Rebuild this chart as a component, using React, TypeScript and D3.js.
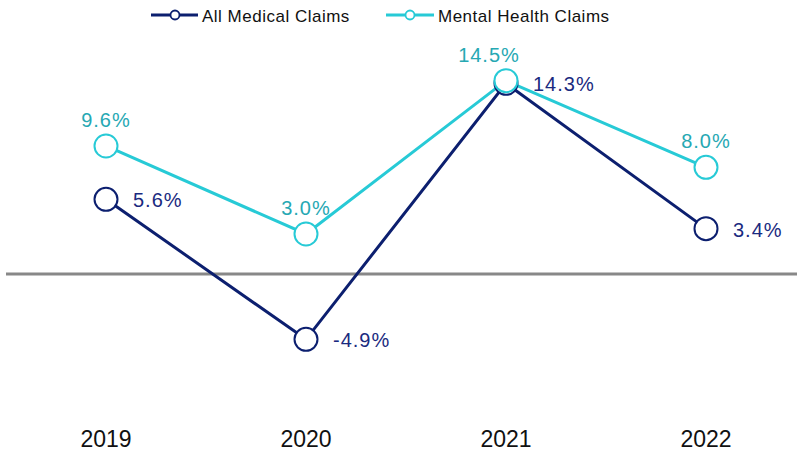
import React from "react";
import * as d3 from "d3";

const years = ["2019", "2020", "2021", "2022"];
const allMedical = [5.6, -4.9, 14.3, 3.4];
const mentalHealth = [9.6, 3.0, 14.5, 8.0];

const W = 797;
const H = 453;
const NAVY = "#0c1f6f";
const CYAN = "#27cad6";
const CYAN_TEXT = "#26a8b3";
const NAVY_TEXT = "#1a2a80";
const FONT = "'Liberation Sans', Arial, sans-serif";

export default function App() {
  const x = d3.scalePoint<string>().domain(years).range([106, 706]);
  const y = d3.scaleLinear().domain([-10, 15]).range([407.3, 74]);

  const line = d3
    .line<number>()
    .x((_, i) => x(years[i]) as number)
    .y((d) => y(d));

  // label offsets: mental health above (14.5 nudged left), all medical to the right
  const mhDx = [0, 0, -17, 0];

  return (
    <svg
      width={W}
      height={H}
      style={{ position: "absolute", left: 0, top: 0, background: "#fff" }}
      fontFamily={FONT}
    >
      {/* legend */}
      <g>
        <line x1={151} x2={198} y1={15} y2={15} stroke={NAVY} strokeWidth={3} />
        <circle cx={175} cy={15} r={4.5} fill="#fff" stroke={NAVY} strokeWidth={1.8} />
        <text x={202} y={16} dy="0.35em" fontSize={17} letterSpacing={0.5} fill="#111">All Medical Claims</text>
        <line x1={386} x2={434} y1={15} y2={15} stroke={CYAN} strokeWidth={3} />
        <circle cx={410} cy={15} r={4.5} fill="#fff" stroke={CYAN} strokeWidth={1.8} />
        <text x={438} y={16} dy="0.35em" fontSize={17} letterSpacing={0.5} fill="#111">Mental Health Claims</text>
      </g>

      {/* zero line */}
      <line x1={6} x2={W} y1={y(0)} y2={y(0)} stroke="#888" strokeWidth={3} />

      {/* series lines */}
      <path d={line(mentalHealth) || ""} fill="none" stroke={CYAN} strokeWidth={3} />
      <path d={line(allMedical) || ""} fill="none" stroke={NAVY} strokeWidth={3} />

      {/* markers */}
      {allMedical.map((v, i) => (
        <circle key={"am" + i} cx={x(years[i])} cy={y(v)} r={11.5} fill="#fff" stroke={NAVY} strokeWidth={2} />
      ))}
      {mentalHealth.map((v, i) => (
        <circle key={"mh" + i} cx={x(years[i])} cy={y(v)} r={11.5} fill="#fff" stroke={CYAN} strokeWidth={2} />
      ))}

      {/* value labels */}
      {mentalHealth.map((v, i) => (
        <text
          key={"mht" + i}
          x={(x(years[i]) as number) + mhDx[i]}
          y={y(v) - 26}
          dy="0.35em"
          textAnchor="middle"
          fontSize={20}
          letterSpacing={1}
          fill={CYAN_TEXT}
        >
          {v.toFixed(1)}%
        </text>
      ))}
      {allMedical.map((v, i) => (
        <text
          key={"amt" + i}
          x={(x(years[i]) as number) + 27}
          y={y(v) + 1}
          dy="0.35em"
          fontSize={20}
          letterSpacing={1}
          fill={NAVY_TEXT}
        >
          {v.toFixed(1)}%
        </text>
      ))}

      {/* year labels */}
      {years.map((yr) => (
        <text key={yr} x={x(yr)} y={439} dy="0.35em" textAnchor="middle" fontSize={23} fill="#111">
          {yr}
        </text>
      ))}
    </svg>
  );
}
